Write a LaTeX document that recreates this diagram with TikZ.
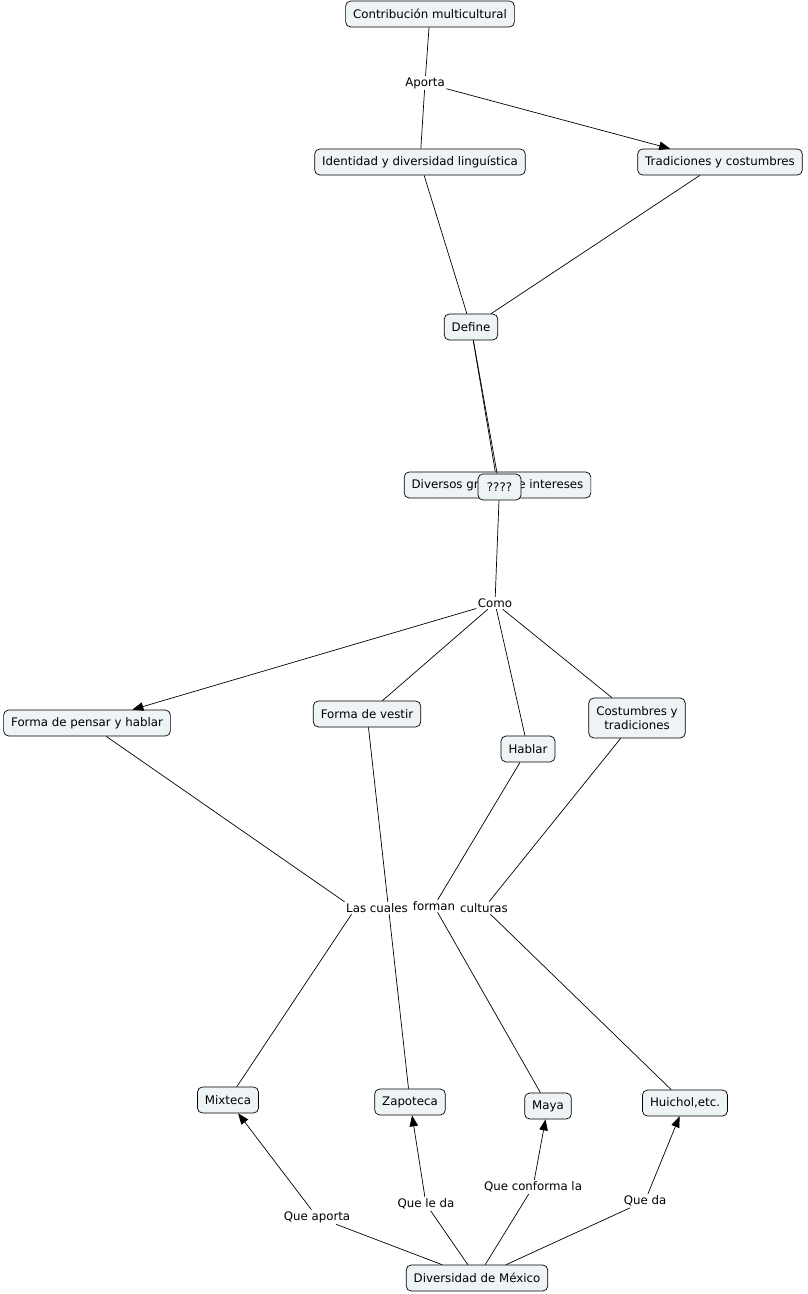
\documentclass[tikz,border=0pt]{standalone}
\usepackage{fontspec}
\setmainfont{DejaVu Sans}
\usetikzlibrary{arrows.meta}
\definecolor{cfill}{HTML}{EEF3F5}
\begin{document}
\begin{tikzpicture}[x=1pt,y=-1pt,
  concept/.style={draw=black, fill=cfill, rounded corners=5pt, inner xsep=7.5pt, inner ysep=0pt, minimum height=26pt, font=\fontsize{11.8}{14}\selectfont, line width=0.7pt},
  phrase/.style={fill=white, inner sep=1.5pt, font=\fontsize{11.8}{14}\selectfont},
  conn/.style={line width=0.7pt},
  arr/.style={conn, -{Triangle[length=11pt,width=8.5pt]}}]
\useasboundingbox (0,0) rectangle (808,1294);
% concepts
\node[concept] (contrib) at (430,14) {Contribución multicultural};
\node[concept] (ident) at (420,162) {Identidad y diversidad linguística};
\node[concept] (trad) at (720,162) {Tradiciones y costumbres};
\node[concept] (define) at (471,327) {Define};
\node[concept] (diversos) at (497.5,485) {Diversos grupos de intereses};
\node[concept] (pensar) at (87,723) {Forma de pensar y hablar};
\node[concept] (vestir) at (367,714) {Forma de vestir};
\node[concept] (hablar) at (528,749) {Hablar};
\node[concept, align=center, minimum height=40pt] (costum) at (637,718) {Costumbres y\\tradiciones};
\node[concept] (mixteca) at (228,1100) {Mixteca};
\node[concept] (zapoteca) at (410,1102) {Zapoteca};
\node[concept] (maya) at (548,1106) {Maya};
\node[concept] (huichol) at (685,1103) {Huichol,etc.};
\node[concept] (mexico) at (477,1278) {Diversidad de México};
% connectors drawn before phrases
\draw[conn] (vestir) -- (zapoteca);
\draw[conn] (define) -- (diversos);
% phrases
\node[phrase] (aporta) at (425,83) {Aporta};
\node[phrase] (como) at (495,603) {Como};
\node[phrase] (lascuales) at (377,908) {Las cuales};
\node[phrase] (forman) at (434,906) {forman};
\node[phrase] (culturas) at (484,908) {culturas};
\node[phrase] (queaporta) at (317,1217) {Que aporta};
\node[phrase] (queleda) at (426,1204) {Que le da};
\node[phrase] (queconforma) at (533,1187) {Que conforma la};
\node[phrase] (queda) at (645,1201) {Que da};
% question node on top of diversos
\node[concept, minimum width=43pt, minimum height=26pt, inner xsep=3pt] (q) at (499.5,487) {????};
\draw[conn] (define) -- (q);
% connectors
\draw[conn] (contrib) -- (aporta);
\draw[conn] (aporta) -- (ident);
\draw[arr] (aporta) -- (trad);
\draw[conn] (ident) -- (define);
\draw[conn] (trad) -- (define);
\draw[conn] (q) -- (como);
\draw[arr] (como) -- (pensar);
\draw[conn] (como) -- (vestir);
\draw[conn] (como) -- (hablar);
\draw[conn] (como) -- (costum);
\draw[conn] (pensar) -- (lascuales.north west);
\draw[conn] ([xshift=7pt]lascuales.south west) -- (mixteca);
\draw[conn] (hablar) -- (forman);
\draw[conn] (forman) -- (maya);
\draw[conn] (costum) -- (culturas);
\draw[conn] (culturas) -- (huichol);
\draw[conn] (mexico) -- (queaporta);
\draw[arr] (queaporta) -- (mixteca);
\draw[conn] (mexico) -- (queleda);
\draw[arr] (queleda) -- (zapoteca);
\draw[conn] (mexico) -- (queconforma);
\draw[arr] (queconforma) -- (maya);
\draw[conn] (mexico) -- (queda);
\draw[arr] (queda) -- (huichol);
\end{tikzpicture}
\end{document}
